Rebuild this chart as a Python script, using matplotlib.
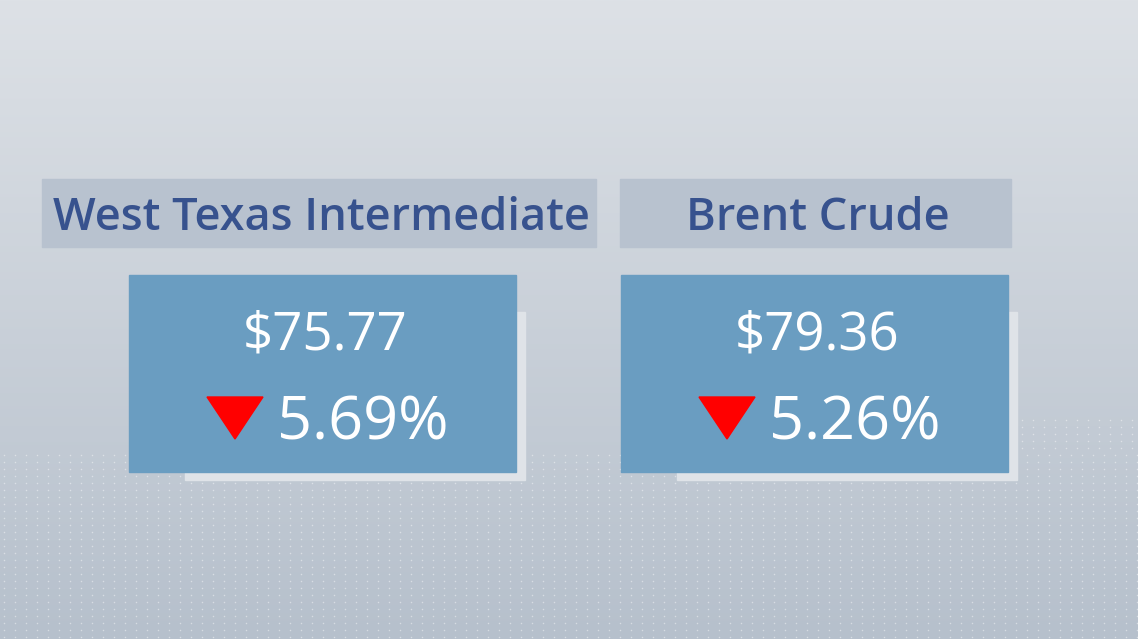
import numpy as np
import matplotlib.pyplot as plt
from matplotlib.patches import Rectangle, Polygon

# Oil prices
names = ["West Texas Intermediate", "Brent Crude"]
prices = ["$75.77", "$79.36"]
changes = ["5.69%", "5.26%"]

W, H = 1138, 639
fig = plt.figure(figsize=(W / 100, H / 100), dpi=100)
ax = fig.add_axes([0, 0, 1, 1])
ax.set_xlim(0, W)
ax.set_ylim(H, 0)
ax.axis('off')

# background gradient, light at the top, greyer blue lower down
grad = np.linspace(0, 1, 256).reshape(-1, 1)
top = np.array([0xdd, 0xe1, 0xe6]) / 255
bot = np.array([0xb6, 0xc0, 0xcc]) / 255
img = top + (bot - top) * grad[..., None]
ax.imshow(img, extent=[0, W, H, 0], aspect='auto', zorder=0)

# faint dot texture in the lower part
gx, gy = np.meshgrid(np.arange(4, W, 11), np.arange(455, H, 7))
ax.scatter(gx.ravel(), gy.ravel(), s=1.2, color='white', alpha=0.45, lw=0, zorder=1)
gx2, gy2 = np.meshgrid(np.arange(1022, W, 11), np.arange(420, 455, 7))
ax.scatter(gx2.ravel(), gy2.ravel(), s=1.2, color='white', alpha=0.45, lw=0, zorder=1)

header_x = [(42, 596), (620, 1011)]
box_x = [(129, 516), (621, 1008)]

for i in range(2):
    hx0, hx1 = header_x[i]
    ax.add_patch(Rectangle((hx0, 179), hx1 - hx0, 68, color='#b8c2cf', zorder=2))
    ax.text((hx0 + hx1) / 2 + 2, 219, names[i], fontsize=32.5, family='Open Sans',
            weight='semibold', color='#37528e', ha='center', va='center', zorder=3)

    bx0, bx1 = box_x[i]
    # pale offset panel behind the box
    ax.add_patch(Rectangle((bx0 + 56, 312), bx1 - bx0 - 47, 168, color='#dfe3e8', zorder=2))
    ax.add_patch(Rectangle((bx0, 275), bx1 - bx0, 197, color='#6a9dc1', zorder=3))
    cx = (bx0 + bx1) / 2
    ax.text(cx + 3, 336, prices[i], fontsize=38, family='Open Sans', color='white',
            ha='center', va='center', zorder=4)
    tx = bx0 + 78
    ax.add_patch(Polygon([(tx, 397), (tx + 56, 397), (tx + 28, 439)],
                         color='#ff0000', zorder=4))
    ax.text(tx + 70, 423, changes[i], fontsize=44, family='Open Sans', color='white',
            ha='left', va='center', zorder=4)

fig.savefig('out.png', dpi=100)
